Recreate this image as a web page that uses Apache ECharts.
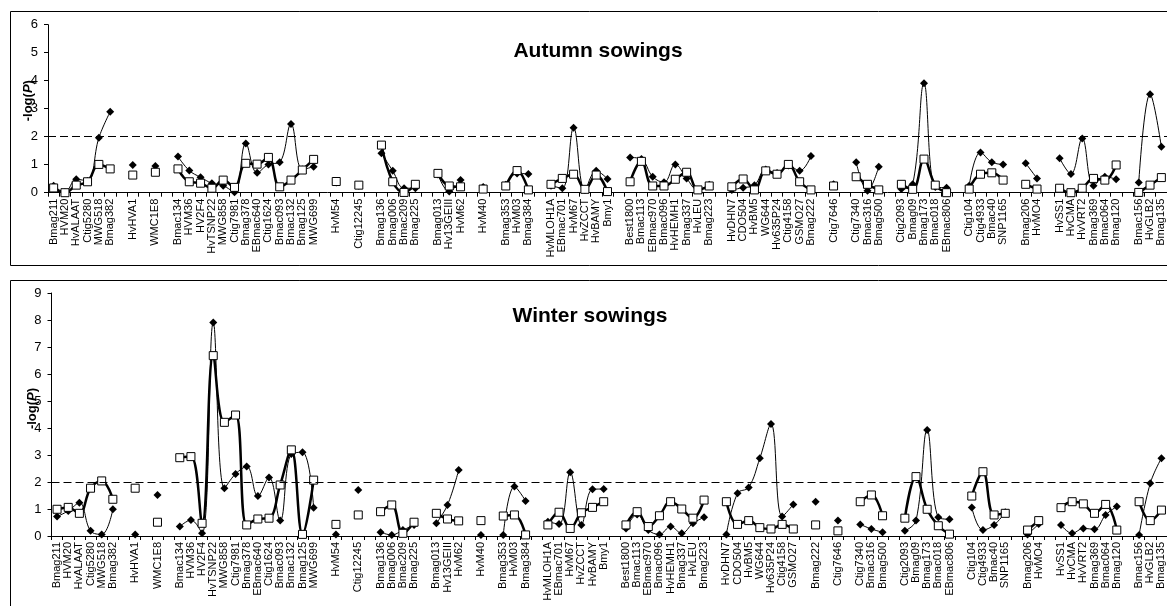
<!DOCTYPE html>
<html>
<head>
<meta charset="utf-8">
<script src="https://cdn.jsdelivr.net/npm/echarts@6/dist/echarts.min.js"></script>
<style>
  html, body { margin: 0; padding: 0; background: #fff; }
  #chart { width: 1167px; height: 606px; }
</style>
</head>
<body>
<div id="chart"></div>
<script>
  // marker order along the genome, '' = spacer between linkage groups
  var autumnMarkers = ['Bmag211','HVM20','HvALAAT','Ctig5280','MWG518','Bmag382','','HvHVA1','','WMC1E8','',
    'Bmac134','HVM36','HV2F4','HvTSNP22','MWG858','Ctig7981','Bmag378','EBmac640','Ctig1624','Bmac093','Bmac132','Bmag125','MWG699','',
    'HvM54','','Ctig12245','',
    'Bmag136','Bmag006','Bmac209','Bmag225','',
    'Bmag013','Hv13GEIII','HvM62','',
    'HvM40','',
    'Bmag353','HvM03','Bmag384','',
    'HvMLOH1A','EBmac701','HvM67','HvZCCT','HvBAMY','Bmy1','',
    'Best1800','Bmac113','EBmac970','Bmac096','HvHEMH1','Bmag337','HvLEU','Bmag223','',
    'HvDHN7','CDO504','HvBM5','WG644','Hv635P24','Ctig4158','GSMO27','Bmag222','',
    'Ctig7646','',
    'Ctig7340','Bmac316','Bmag500','',
    'Ctig2093','Bmag09','Bmag173','Bmac018','EBmac806','',
    'Ctig104','Ctig4933','Bmac40','SNP1165','',
    'Bmag206','HvMO4','',
    'HvSS1','HvCMA','HvVRT2','Bmag369','Bmac064','Bmag120','',
    'Bmac156','HvGLB2','Bmag135'];

  var autumnDiamond = [0.25,0.02,0.48,0.42,1.96,2.89,null,0.99,null,0.95,null,
    1.29,0.79,0.55,0.34,0.25,0.02,1.76,0.71,1.01,1.09,2.45,0.83,0.93,null,
    0.36,null,0.25,null,
    1.41,0.78,0.16,0.16,null,
    0.65,0.04,0.45,null,
    0.2,null,
    0.28,0.69,0.67,null,
    0.25,0.16,2.32,0.1,0.78,0.49,null,
    1.26,1.2,0.57,0.37,1.01,0.51,0.1,0.28,null,
    0.1,0.18,0.27,0.83,0.7,0.97,0.78,1.31,null,
    0.3,null,
    1.09,0.07,0.93,null,
    0.13,0.3,3.91,0.2,0.18,null,
    0.25,1.44,1.09,1.01,null,
    1.05,0.51,null,
    1.23,0.67,1.94,0.25,0.57,0.48,null,
    0.36,3.52,1.64];

  var autumnSquare = [0.17,0,0.27,0.39,1.01,0.85,null,0.63,null,0.73,null,
    0.85,0.39,0.34,0.16,0.45,0.19,1.05,1.02,1.26,0.21,0.45,0.81,1.19,null,
    0.4,null,0.27,null,
    1.7,0.39,0.01,0.3,null,
    0.69,0.24,0.21,null,
    0.13,null,
    0.24,0.79,0.1,null,
    0.3,0.51,0.66,0.12,0.63,0.04,null,
    0.39,1.12,0.24,0.24,0.48,0.73,0.1,0.24,null,
    0.21,0.49,0.1,0.78,0.66,1.01,0.39,0.1,null,
    0.24,null,
    0.57,0.3,0.1,null,
    0.3,0.12,1.2,0.27,0,null,
    0.13,0.66,0.71,0.45,null,
    0.3,0.13,null,
    0.16,0,0.16,0.51,0.45,0.99,null,
    0.01,0.27,0.54];

  var winterMarkers = ['Bmag211','HVM20','HvALAAT','Ctig5280','MWG518','Bmag382','','HvHVA1','','WMC1E8','',
    'Bmac134','HVM36','HV2F4','HvTSNP22','MWG858','Ctig7981','Bmag378','EBmac640','Ctig1624','Bmac093','Bmac132','Bmag125','MWG699','',
    'HvM54','','Ctig12245','',
    'Bmag136','Bmag006','Bmac209','Bmag225','',
    'Bmag013','Hv13GEIII','HvM62','',
    'HvM40','',
    'Bmag353','HvM03','Bmag384','',
    'HvMLOH1A','EBmac701','HvM67','HvZCCT','HvBAMY','Bmy1','',
    'Best1800','Bmac113','EBmac970','Bmac096','HvHEMH1','Bmag337','HvLEU','Bmag223','',
    'HvDHN7','CDO504','HvBM5','WG644','Hv635P24','Ctig4158','GSMO27','',
    'Bmag222','',
    'Ctig7646','',
    'Ctig7340','Bmac316','Bmag500','',
    'Ctig2093','Bmag09','Bmag173','Bmac018','EBmac806','',
    'Ctig104','Ctig4933','Bmac40','SNP1165','',
    'Bmag206','HvMO4','',
    'HvSS1','HvCMA','HvVRT2','Bmag369','Bmac064','Bmag120','',
    'Bmac156','HvGLB2','Bmag135'];

  var winterDiamond = [0.72,0.93,1.23,0.19,0.06,0.99,null,0.06,null,1.52,null,
    0.35,0.59,0.1,7.91,1.77,2.3,2.57,1.48,2.17,0.57,3.04,3.1,1.05,null,
    0.06,null,1.7,null,
    0.14,0.04,0.22,0.41,null,
    0.47,1.15,2.44,null,
    0.04,null,
    0.04,1.83,1.3,null,
    0.53,0.44,2.36,0.41,1.73,1.74,null,
    0.28,0.8,0.22,0.06,0.35,0.1,0.47,0.69,null,
    0.06,1.58,1.8,2.88,4.15,0.72,1.17,null,
    1.27,null,
    0.57,null,
    0.43,0.26,0.14,null,
    0.19,0.57,3.93,0.69,0.62,null,
    1.06,0.22,0.41,0.88,null,
    0.06,0.44,null,
    0.41,0.1,0.28,0.25,0.78,1.09,null,
    0.04,1.95,2.88];

  var winterSquare = [0.99,1.06,0.84,1.77,2.04,1.36,null,1.77,null,0.51,null,
    2.9,2.94,0.47,6.68,4.21,4.48,0.41,0.63,0.66,1.89,3.19,0.06,2.07,null,
    0.43,null,0.78,null,
    0.9,1.15,0.1,0.51,null,
    0.84,0.63,0.56,null,
    0.57,null,
    0.74,0.78,0.04,null,
    0.41,0.88,0.28,0.86,1.06,1.27,null,
    0.41,0.9,0.35,0.75,1.27,1.0,0.66,1.33,null,
    1.27,0.43,0.57,0.31,0.26,0.43,0.26,null,
    0.41,null,
    0.19,null,
    1.27,1.52,0.75,null,
    0.66,2.2,0.99,0.38,0.07,null,
    1.48,2.38,0.78,0.84,null,
    0.22,0.57,null,
    1.05,1.27,1.19,0.84,1.17,0.22,null,
    1.27,0.57,0.96];

  var threshold = 2;

  var font = "'Liberation Sans', Arial, sans-serif";

  function xAxisFor(gridIndex, markers) {
    return {
      type: 'category',
      gridIndex: gridIndex,
      data: markers,
      boundaryGap: true,
      axisLine: { lineStyle: { color: '#000', width: 1 } },
      axisTick: { show: true, interval: 0, length: 4, lineStyle: { color: '#000' } },
      axisLabel: { interval: 0, rotate: 90, margin: 6, color: '#000', fontSize: 11, fontFamily: font },
      splitLine: { show: false }
    };
  }

  function yAxisFor(gridIndex, max, pad) {
    return {
      type: 'value',
      gridIndex: gridIndex,
      min: 0,
      max: max,
      interval: 1,
      name: '-log({i|P})',
      nameLocation: 'middle',
      nameGap: 13,
      nameMoveOverlap: false,
      nameTextStyle: {
        color: '#000', fontSize: 13, fontWeight: 'bold', fontFamily: font,
        padding: [0, 0, 0, pad],
        rich: { i: { fontStyle: 'italic', fontWeight: 'bold', fontSize: 13, fontFamily: font, color: '#000' } }
      },
      axisLine: { show: true, lineStyle: { color: '#000', width: 1 } },
      axisTick: { show: true, length: 4, lineStyle: { color: '#000' } },
      axisLabel: { color: '#000', fontSize: 13, fontFamily: font, margin: 10 },
      splitLine: { show: false }
    };
  }

  function diamondSeries(idx, data, withLine) {
    var s = {
      type: 'line',
      xAxisIndex: idx,
      yAxisIndex: idx,
      data: data,
      smooth: 0.4,
      connectNulls: false,
      showAllSymbol: true,
      symbol: 'diamond',
      symbolSize: 8,
      itemStyle: { color: '#000' },
      lineStyle: { color: '#000', width: 1 },
      z: 2
    };
    if (withLine) {
      s.markLine = {
        silent: true,
        symbol: 'none',
        label: { show: false },
        lineStyle: { color: '#000', width: 1, type: [8, 4] },
        data: [{ yAxis: threshold }]
      };
    }
    return s;
  }

  function squareSeries(idx, data) {
    return {
      type: 'line',
      xAxisIndex: idx,
      yAxisIndex: idx,
      data: data,
      smooth: 0.4,
      connectNulls: false,
      showAllSymbol: true,
      symbol: 'rect',
      symbolSize: 8,
      itemStyle: { color: '#fff', borderColor: '#000', borderWidth: 1 },
      lineStyle: { color: '#000', width: 2.5 },
      z: 3
    };
  }

  var chart = echarts.init(document.getElementById('chart'));
  chart.setOption({
    animation: false,
    backgroundColor: '#fff',
    title: [
      { text: 'Autumn sowings', left: 598, top: 41, textAlign: 'center', padding: 0,
        textStyle: { fontSize: 21, fontWeight: 'bold', color: '#000', fontFamily: font } },
      { text: 'Winter sowings', left: 590, top: 306, textAlign: 'center', padding: 0,
        textStyle: { fontSize: 21, fontWeight: 'bold', color: '#000', fontFamily: font } }
    ],
    graphic: [
      { type: 'rect', shape: { x: 10.5, y: 11.5, width: 1180, height: 254 },
        style: { fill: 'none', stroke: '#000', lineWidth: 1 } },
      { type: 'rect', shape: { x: 10.5, y: 280.5, width: 1180, height: 340 },
        style: { fill: 'none', stroke: '#000', lineWidth: 1 } }
    ],
    grid: [
      { left: 48, right: -2.7, top: 24.7, height: 168 },
      { left: 51.5, right: -3.5, top: 293, height: 243 }
    ],
    xAxis: [xAxisFor(0, autumnMarkers), xAxisFor(1, winterMarkers)],
    yAxis: [yAxisFor(0, 6, 16), yAxisFor(1, 9, 12)],
    series: [
      diamondSeries(0, autumnDiamond, true),
      squareSeries(0, autumnSquare),
      diamondSeries(1, winterDiamond, true),
      squareSeries(1, winterSquare)
    ]
  });
</script>
</body>
</html>
